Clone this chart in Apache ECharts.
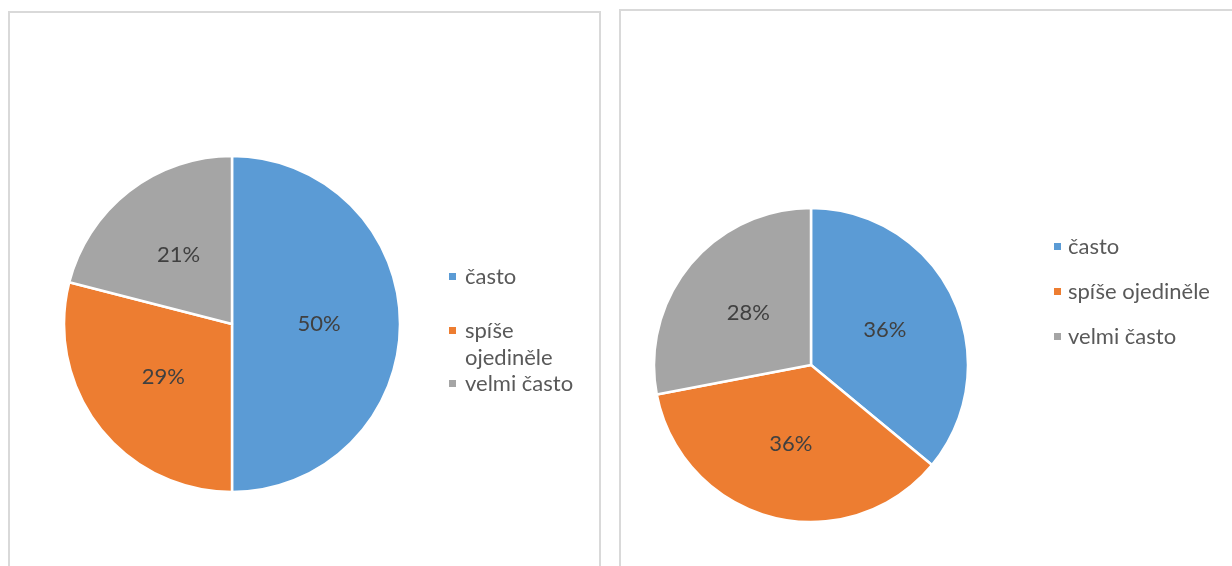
<!DOCTYPE html>
<html>
<head>
<meta charset="utf-8">
<script src="https://cdn.jsdelivr.net/npm/echarts@6/dist/echarts.min.js"></script>
<style>
html,body{margin:0;padding:0;background:#fff;}
#c{width:1232px;height:566px;}
</style>
</head>
<body>
<div id="c"></div>
<script>
const categories = ['často', 'spíše ojediněle', 'velmi často'];
const leftValues = [50, 29, 21];
const rightValues = [36, 36, 28];
const colors = ['#5B9BD5', '#ED7D31', '#A5A5A5'];

const FONT = 'Lato';
const chart = echarts.init(document.getElementById('c'), null, {renderer: 'canvas'});

function pieData(vals) {
  return categories.map((n, i) => ({name: n, value: vals[i]}));
}

const labelCfg = {
  show: true, position: 'inside', formatter: '{c}%',
  color: '#404040', fontSize: 22, fontFamily: FONT
};

const legendText = {color: '#595959', fontSize: 22, fontFamily: FONT, lineHeight: 27, padding: [0, 0, 0, 3]};
const legendBase = {orient: 'vertical', padding: 0, itemWidth: 9, itemHeight: 9, icon: 'rect'};

chart.setOption({
  animation: false,
  color: colors,
  graphic: [
    {type: 'rect', shape: {x: 9, y: 12, width: 591, height: 600}, style: {fill: 'none', stroke: '#d9d9d9', lineWidth: 2}},
    {type: 'rect', shape: {x: 620, y: 10, width: 700, height: 600}, style: {fill: 'none', stroke: '#d9d9d9', lineWidth: 2}}
  ],
  legend: [
    Object.assign({data: [categories[0]], left: 447, top: 263, textStyle: legendText}, legendBase),
    Object.assign({data: [categories[1]], left: 447, top: 290,
      formatter: function (n) { return ' \nspíše\nojediněle'; },
      textStyle: legendText}, legendBase),
    Object.assign({data: [categories[2]], left: 447, top: 370, textStyle: legendText}, legendBase),
    Object.assign({data: categories, left: 1052, top: 233, itemGap: 18, textStyle: Object.assign({}, legendText, {padding: [0, 0, 0, 1]})}, legendBase)
  ],
  series: [
    {
      type: 'pie', center: [232, 324], radius: 168, startAngle: 90, clockwise: true,
      data: pieData(leftValues), label: labelCfg, labelLine: {show: false},
      itemStyle: {borderColor: '#fff', borderWidth: 2.5},
      emphasis: {disabled: true}
    },
    {
      type: 'pie', center: [811, 365], radius: 157, startAngle: 90, clockwise: true,
      data: pieData(rightValues), label: labelCfg, labelLine: {show: false},
      itemStyle: {borderColor: '#fff', borderWidth: 2.5},
      emphasis: {disabled: true}
    }
  ]
});
</script>
</body>
</html>
